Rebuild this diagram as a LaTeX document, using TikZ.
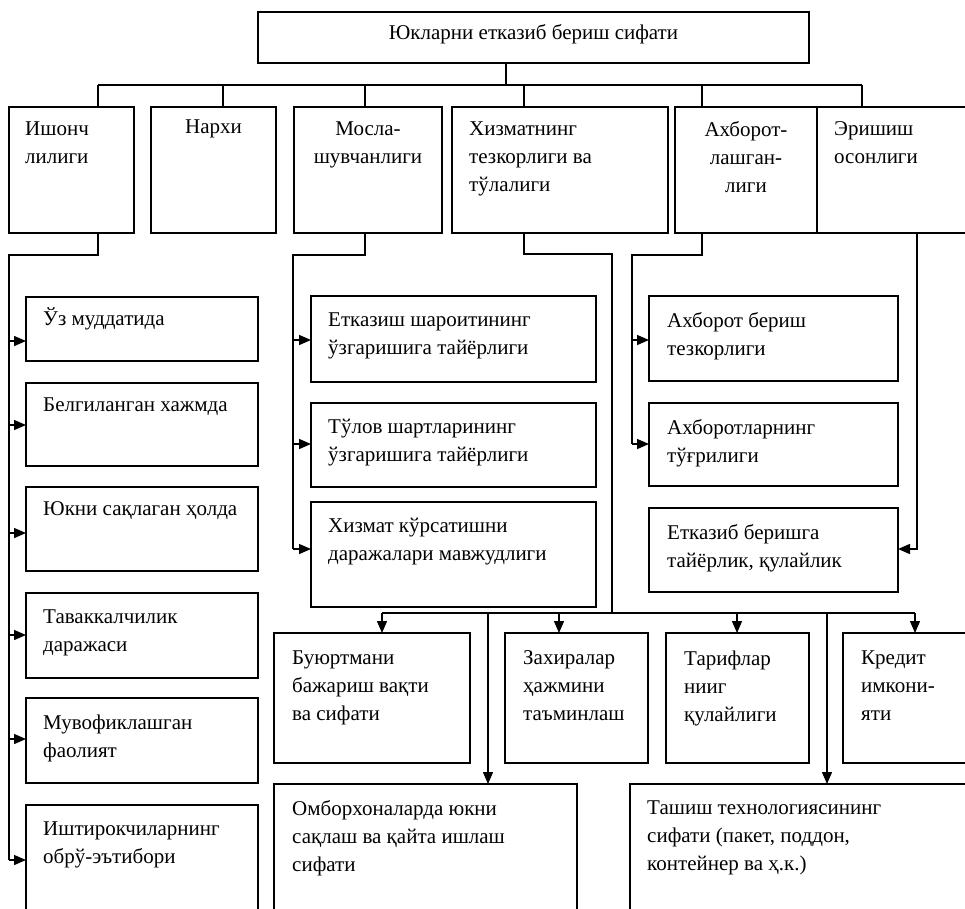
\documentclass[tikz,border=0pt]{standalone}
\usepackage{fontspec}
\setmainfont{Liberation Serif}
\usetikzlibrary{arrows.meta}
% framed box given by its corners: name, x1, y1, x2, y2
\newcommand\frm[5]{%
  \node[box, anchor=north west, minimum width={#4-#2}, minimum height={#5-#3}] (#1) at (#2,#3) {};}
\begin{document}
\begin{tikzpicture}[x=1pt,y=-1pt,
  box/.style={draw, line width=1.6pt, inner sep=0pt, outer sep=0pt},
  txt/.style={inner sep=0pt, align=left, font=\fontsize{21}{28}\selectfont,
    anchor=north west, execute at begin node=\strut},
  ctxt/.style={txt, align=center, anchor=north},
  % multi-line labels start a little lower
  ml/.style={yshift=-8pt},
  wire/.style={line width=1.4pt},
  arr/.style={wire, -{Triangle[length=12pt,width=10pt]}}]
\useasboundingbox (0,0) rectangle (965,908);
\fill[white] (0,0) rectangle (965,908);
\clip (0,0) rectangle (965,908);

% ---- top ----
\frm{top}{258}{12}{809}{63}
\node[ctxt] (topt) at ([shift={(0,7.4)}]top.north) {Юкларни етказиб бериш сифати};

% ---- first level ----
\frm{r1}{9}{107}{134}{233}
\frm{r2}{151}{107}{276}{233}
\frm{r3}{294}{107}{442}{233}
\frm{r4}{452}{107}{668}{233}
\frm{r5}{675}{107}{817}{233}
\frm{r6}{817}{107}{1010}{233}
\node[txt,ml]  (r1t) at ([shift={(16,6.4)}]r1.north west) {Ишонч\\лилиги};
\node[ctxt]    (r2t) at ([shift={(0,6.4)}]r2.north) {Нархи};
\node[ctxt,ml] (r3t) at ([shift={(0,6.4)}]r3.north) {Мосла-\\шувчанлиги};
\node[txt,ml]  (r4t) at ([shift={(17,6.4)}]r4.north west) {Хизматнинг\\тезкорлиги ва\\тўлалиги};
\node[ctxt,ml] (r5t) at ([shift={(0,6.4)}]r5.north) {Ахборот-\\лашган-\\лиги};
\node[txt,ml]  (r6t) at ([shift={(17,6.4)}]r6.north west) {Эришиш\\осонлиги};

% ---- left column ----
\frm{a1}{26}{297}{258}{361}
\frm{a2}{26}{383}{258}{466}
\frm{a3}{26}{487}{258}{571}
\frm{a4}{26}{593}{258}{678}
\frm{a5}{26}{698}{258}{783}
\frm{a6}{26}{805}{258}{960}
\node[txt]    (a1t) at ([shift={(17,8.4)}]a1.north west) {Ўз муддатида};
\node[txt]    (a2t) at ([shift={(17,8.4)}]a2.north west) {Белгиланган хажмда};
\node[txt]    (a3t) at ([shift={(17,8.4)}]a3.north west) {Юкни сақлаган ҳолда};
\node[txt,ml] (a4t) at ([shift={(17,8.4)}]a4.north west) {Таваккалчилик\\даражаси};
\node[txt,ml] (a5t) at ([shift={(17,8.4)}]a5.north west) {Мувофиклашган\\фаолият};
\node[txt,ml] (a6t) at ([shift={(17,8.4)}]a6.north west) {Иштирокчиларнинг\\обрў-эътибори};

% ---- middle column ----
\frm{m1}{311}{296}{596}{382}
\frm{m2}{311}{403}{596}{487}
\frm{m3}{311}{502}{596}{607}
\node[txt,ml] (m1t) at ([shift={(17,8.4)}]m1.north west) {Етказиш шароитининг\\ўзгаришига тайёрлиги};
\node[txt,ml] (m2t) at ([shift={(17,8.4)}]m2.north west) {Тўлов шартларининг\\ўзгаришига тайёрлиги};
\node[txt,ml] (m3t) at ([shift={(17,8.4)}]m3.north west) {Хизмат кўрсатишни\\даражалари мавжудлиги};

% ---- right column ----
\frm{k1}{649}{296}{898}{381}
\frm{k2}{649}{403}{898}{486}
\frm{k3}{649}{508}{898}{592}
\node[txt,ml] (k1t) at ([shift={(18,8.4)}]k1.north west) {Ахборот бериш\\тезкорлиги};
\node[txt,ml] (k2t) at ([shift={(18,8.4)}]k2.north west) {Ахборотларнинг\\тўғрилиги};
\node[txt,ml] (k3t) at ([shift={(18,8.4)}]k3.north west) {Етказиб беришга\\тайёрлик, қулайлик};

% ---- bottom rows ----
\frm{b1}{274}{633}{470}{763}
\frm{b2}{505}{633}{648}{763}
\frm{b3}{666}{633}{809}{763}
\frm{b4}{843}{633}{1010}{763}
\frm{c1}{274}{784}{577}{960}
\frm{c2}{630}{784}{1010}{960}
\node[txt,ml] (b1t) at ([shift={(18,9.4)}]b1.north west) {Буюртмани\\бажариш вақти\\ва сифати};
\node[txt,ml] (b2t) at ([shift={(18,9.4)}]b2.north west) {Захиралар\\ҳажмини\\таъминлаш};
\node[txt,ml] (b3t) at ([shift={(18,9.4)}]b3.north west) {Тарифлар\\нииг\\қулайлиги};
\node[txt,ml] (b4t) at ([shift={(18,9.4)}]b4.north west) {Кредит\\имкони-\\яти};
\node[txt,ml] (c1t) at ([shift={(18,8.4)}]c1.north west) {Омборхоналарда юкни\\сақлаш ва қайта ишлаш\\сифати};
\node[txt,ml] (c2t) at ([shift={(17,8.4)}]c2.north west) {Ташиш технологиясининг\\сифати (пакет, поддон,\\контейнер ва ҳ.к.)};

% ---- links from the top box ----
\coordinate (j0) at (506,85);
\coordinate (p1) at (98,85);
\coordinate (p2) at (223,85);
\coordinate (p3) at (365,85);
\coordinate (p4) at (524,85);
\coordinate (p5) at (702,85);
\coordinate (p6) at (862,85);
\draw[wire] (top.south -| j0) -- (j0);
\draw[wire] (p1) -- (p6);
\foreach \i in {1,...,6} \draw[wire] (p\i) -- (p\i |- r\i.north);

% ---- left column links ----
\coordinate (q1) at (98,255);
\coordinate (q2) at (9,255);
\draw[wire] (r1.south -| q1) -- (q1) -- (q2) -- (9,860);
\draw[arr] (9,341) -- (a1.west |- 0,341);
\draw[arr] (9,425) -- (a2.west |- 0,425);
\draw[arr] (9,533) -- (a3.west |- 0,533);
\draw[arr] (9,635) -- (a4.west |- 0,635);
\draw[arr] (9,739) -- (a5.west |- 0,739);
\draw[arr] (9,860) -- (a6.west |- 0,860);

% ---- middle column links ----
\coordinate (s1) at (365,255);
\coordinate (s2) at (293,255);
\draw[wire] (r3.south -| s1) -- (s1) -- (s2) -- (293,549);
\draw[arr] (293,340) -- (m1.west |- 0,340);
\draw[arr] (293,444) -- (m2.west |- 0,444);
\draw[arr] (293,549) -- (m3.west |- 0,549);

% ---- right column links ----
\coordinate (u1) at (702,255);
\coordinate (u2) at (632,255);
\draw[wire] (r5.south -| u1) -- (u1) -- (u2) -- (632,444);
\draw[arr] (632,340) -- (k1.west |- 0,340);
\draw[arr] (632,444) -- (k2.west |- 0,444);
\coordinate (e1) at (917,549);
\draw[arr] (r6.south -| e1) -- (e1) -- (k3.east |- e1);

% ---- links to the bottom rows ----
\coordinate (v1) at (524,254);
\coordinate (v2) at (612,254);
\coordinate (v3) at (612,613);
\draw[wire] (r4.south -| v1) -- (v1) -- (v2) -- (v3);
\coordinate (w1) at (382,613);
\coordinate (w2) at (488,613);
\coordinate (w3) at (559,613);
\coordinate (w4) at (737,613);
\coordinate (w5) at (827,613);
\coordinate (w6) at (915,613);
\draw[wire] (w1) -- (w6);
\draw[arr] (w1) -- (b1.north -| w1);
\draw[arr] (w2) -- (c1.north -| w2);
\draw[arr] (w3) -- (b2.north -| w3);
\draw[arr] (w4) -- (b3.north -| w4);
\draw[arr] (w5) -- (c2.north -| w5);
\draw[arr] (w6) -- (b4.north -| w6);
\end{tikzpicture}
\end{document}
